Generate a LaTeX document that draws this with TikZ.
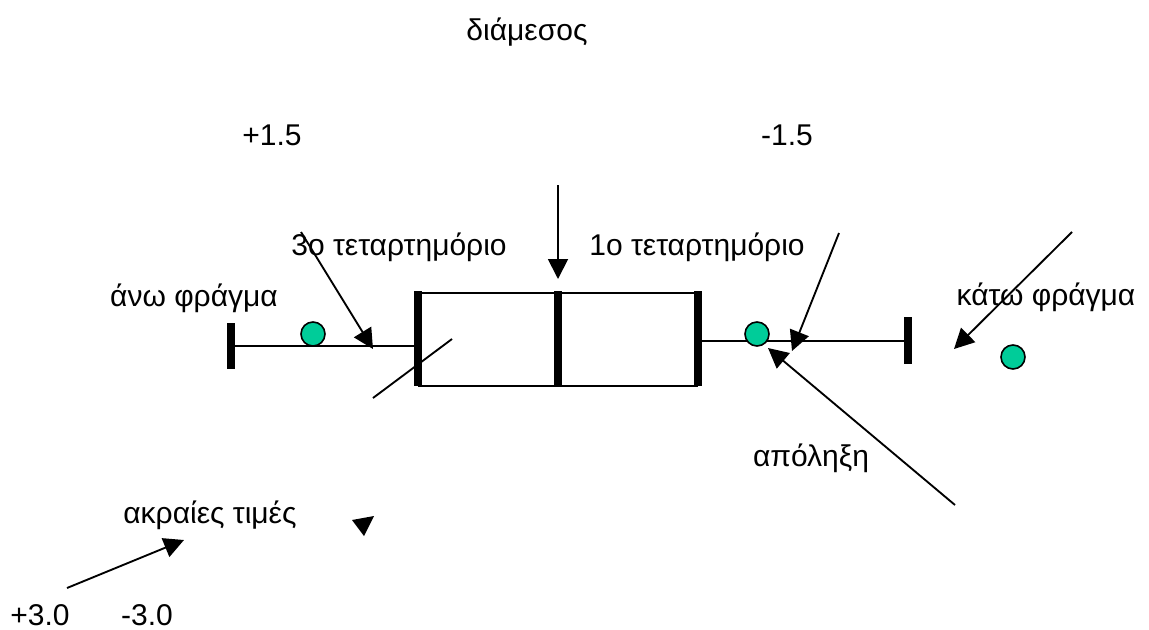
\documentclass[tikz,border=0pt]{standalone}
\usepackage{fontspec}
\setmainfont{Liberation Sans}
\usetikzlibrary{arrows.meta}
\definecolor{dotgreen}{RGB}{0,204,153}
\tikzset{
  lbl/.style={anchor=base, inner sep=0pt, font=\fontsize{22.5}{27}\selectfont},
  thin/.style={line width=1.4pt},
  bar/.style={line width=5.5pt},
  arr/.style={line width=1.4pt, -{Triangle[length=15pt,width=15pt]}},
  dot/.style={circle, draw, line width=1.2pt, fill=dotgreen, minimum size=18pt, inner sep=0pt},
}
\begin{document}
\begin{tikzpicture}[x=0.75pt,y=-0.75pt]
\useasboundingbox (0,0) rectangle (1149,629);
% labels
\node[lbl] (med) at (527,40) {διάμεσος};
\node[lbl] (p15) at (272,145) {+1.5};
\node[lbl] (m15) at (787,145) {-1.5};
\node[lbl] (q3) at (399,255) {3ο τεταρτημόριο};
\node[lbl] (q1) at (697,255) {1ο τεταρτημόριο};
\node[lbl] (upf) at (194,306) {άνω φράγμα};
\node[lbl] (lowf) at (1046,305) {κάτω φράγμα};
\node[lbl] (apol) at (811,466) {απόληξη};
\node[lbl] (akr) at (210,523) {ακραίες τιμές};
\node[lbl] (p30) at (40,625) {+3.0};
\node[lbl] (m30) at (147,625) {-3.0};
% box plot geometry
\coordinate (capL) at (231,346);
\coordinate (boxLmid) at (418,346);
\coordinate (boxR) at (698,341);
\coordinate (capR) at (908,341);
\draw[thin] (capL) -- (boxLmid);
\draw[thin] (boxR) -- (capR);
\draw[thin] (418,293) -- (698,293);
\draw[thin] (418,386) -- (698,386);
\draw[bar] (231,323) -- (231,369);
\draw[bar] (908,317) -- (908,364);
\draw[bar] (418,291) -- (418,386);
\draw[bar] (558,291) -- (558,386);
\draw[bar] (698,291) -- (698,386);
% dots
\node[dot] (d1) at (313,334) {};
\node[dot] (d2) at (757,334) {};
\node[dot] (d3) at (1013,357) {};
% arrows
\coordinate (a1s) at (301,232); \coordinate (a1e) at (373,349);
\draw[arr] (a1s) -- (a1e);
\coordinate (sl1) at (373,398); \coordinate (sl2) at (452,339);
\draw[thin] (sl1) -- (sl2);
\coordinate (a2s) at (558,185); \coordinate (a2e) at (558,279);
\draw[arr] (a2s) -- (a2e);
\coordinate (a3s) at (839,233); \coordinate (a3e) at (792,351);
\draw[arr] (a3s) -- (a3e);
\coordinate (a4s) at (1072,232); \coordinate (a4e) at (954,349);
\draw[arr] (a4s) -- (a4e);
\coordinate (a5s) at (955,505); \coordinate (a5e) at (768,348);
\draw[arr] (a5s) -- (a5e);
\coordinate (a6s) at (67,588); \coordinate (a6e) at (184,540);
\draw[arr] (a6s) -- (a6e);
% lone arrowhead
\fill (352,520) -- (374,516) -- (364,536) -- cycle;
\end{tikzpicture}
\end{document}
